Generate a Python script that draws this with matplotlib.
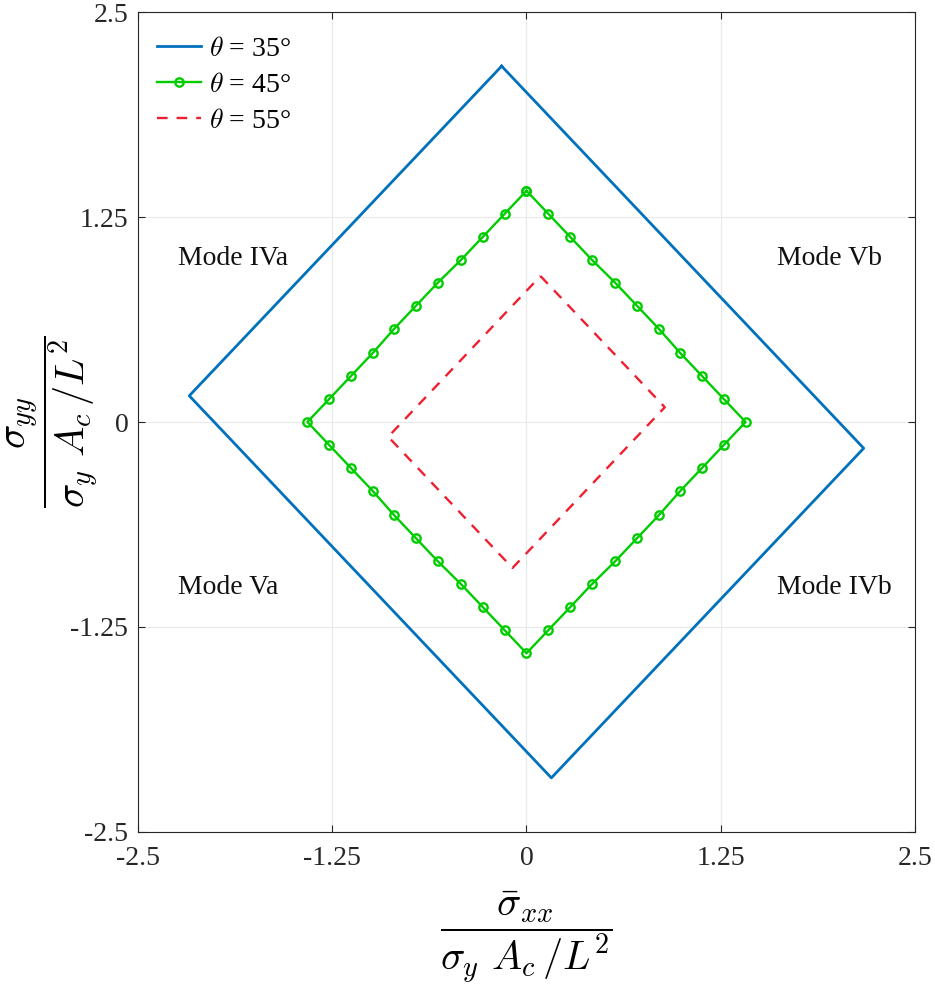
import matplotlib
matplotlib.use("Agg")
import matplotlib.pyplot as plt

# yield surfaces for three fibre angles (normalised stresses)
blue_x = [-0.16, -2.17, 0.16, 2.17, -0.16]
blue_y = [2.17, 0.16, -2.17, -0.16, 2.17]

green_x = [0, -0.14, -0.28, -0.42, -0.57, -0.71, -0.85, -0.99, -1.13, -1.27, -1.41,
           -1.27, -1.13, -0.99, -0.85, -0.71, -0.57, -0.42, -0.28, -0.14, 0,
           0.14, 0.28, 0.42, 0.57, 0.71, 0.85, 0.99, 1.13, 1.27, 1.41,
           1.27, 1.13, 0.99, 0.85, 0.71, 0.57, 0.42, 0.28, 0.14, 0]
green_y = [1.41, 1.27, 1.13, 0.99, 0.85, 0.71, 0.57, 0.42, 0.28, 0.14, 0,
           -0.14, -0.28, -0.42, -0.57, -0.71, -0.85, -0.99, -1.13, -1.27, -1.41,
           -1.27, -1.13, -0.99, -0.85, -0.71, -0.57, -0.42, -0.28, -0.14, 0,
           0.14, 0.28, 0.42, 0.57, 0.71, 0.85, 0.99, 1.13, 1.27, 1.41]

red_x = [0.09, 0.89, -0.09, -0.89, 0.09]
red_y = [0.89, 0.09, -0.89, -0.09, 0.89]

labels = [r"$\theta$ = 35°", r"$\theta$ = 45°", r"$\theta$ = 55°"]

ticks = [-2.5, -1.25, 0, 1.25, 2.5]
tick_labels = ["-2.5", "-1.25", "0", "1.25", "2.5"]

modes = [("Mode IVa", -2.24, 1.0), ("Mode Vb", 1.61, 1.0),
         ("Mode Va", -2.24, -1.01), ("Mode IVb", 1.61, -1.01)]

plt.rcParams["mathtext.fontset"] = "cm"
serif = "Liberation Serif"

fig = plt.figure(figsize=(9.35, 9.86), dpi=100)
ax = fig.add_axes([0.1476, 0.1562, 0.831, 0.8316])

ax.plot(blue_x, blue_y, color="#0072BD", linewidth=2.0, label=labels[0])
ax.plot(green_x, green_y, color="#00CC00", linewidth=1.7, marker="o",
        markersize=6, markerfacecolor="none", markeredgewidth=1.7, label=labels[1])
ax.plot(red_x, red_y, color="#EE2030", linewidth=1.7, linestyle=(0, (4.5, 3.8)),
        label=labels[2])

for text, x, y in modes:
    ax.text(x, y, text, fontsize=20, family=serif, ha="left", va="center",
            color="#111111")

ax.set_xlim(-2.5, 2.5)
ax.set_ylim(-2.5, 2.5)
ax.set_xticks(ticks)
ax.set_yticks(ticks)
ax.set_xticklabels(tick_labels, family=serif, fontsize=20)
ax.set_yticklabels(tick_labels, family=serif, fontsize=20)
ax.tick_params(direction="in", length=5, width=0.8, top=True, right=True,
               colors="#262626", pad=7)
ax.tick_params(axis="x", pad=10)
ax.grid(True, color="#e8e8e8", linewidth=0.8)
ax.set_axisbelow(True)
for spine in ax.spines.values():
    spine.set_color("#262626")
    spine.set_linewidth(0.8)

ax.set_xlabel(r"$\dfrac{\bar{\sigma}_{xx}}{\sigma_y\ A_c\,/L^2}$", fontsize=29,
              va="center")
ax.set_ylabel(r"$\dfrac{\sigma_{yy}}{\sigma_y\ A_c\,/L^2}$", fontsize=29,
              va="center")
ax.xaxis.set_label_coords(0.5, -0.128)
ax.yaxis.set_label_coords(-0.11, 0.5)

ax.legend(loc="upper left", bbox_to_anchor=(0.0, 0.994), frameon=False,
          handlelength=1.55, borderaxespad=0.2, borderpad=0.5, labelspacing=0.38,
          handletextpad=0.3, prop={"family": serif, "size": 20})

fig.savefig("out.png", dpi=100)
